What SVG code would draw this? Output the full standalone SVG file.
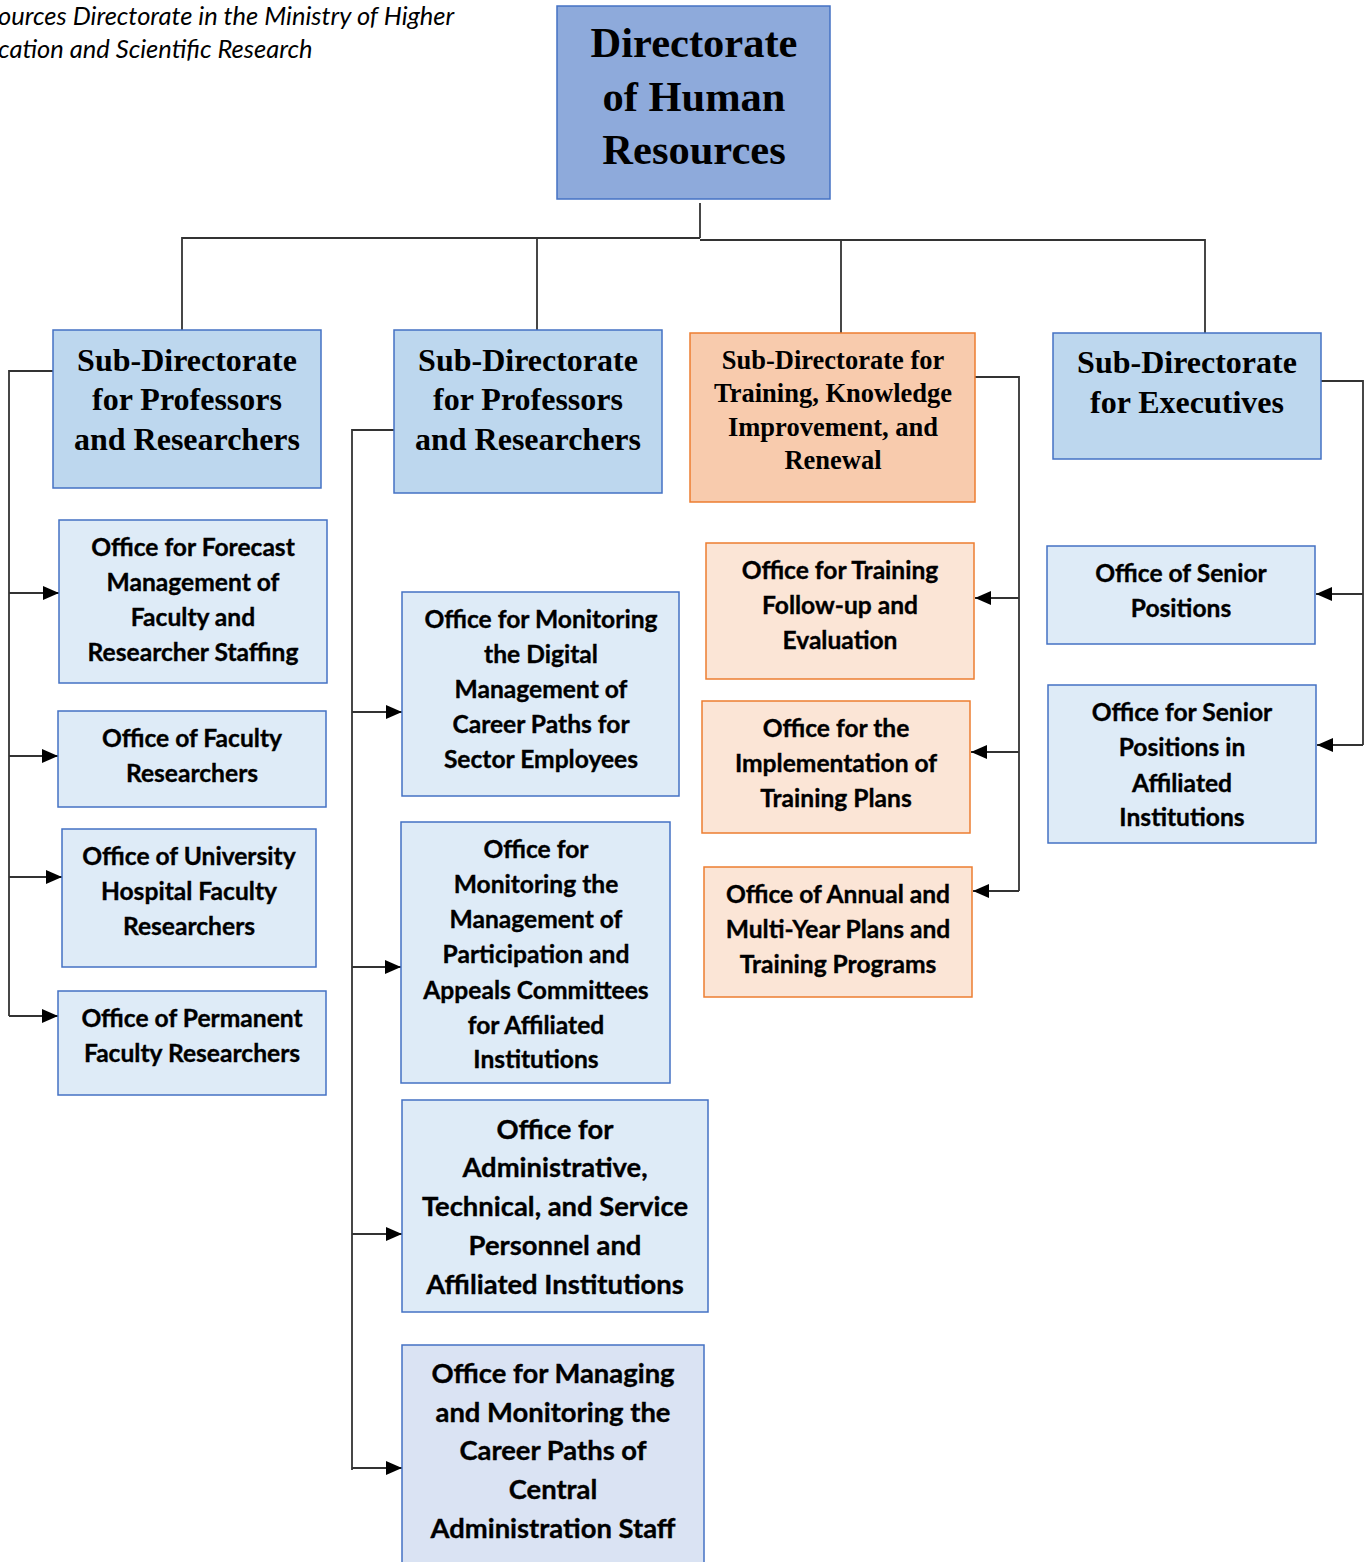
<svg xmlns="http://www.w3.org/2000/svg" width="1368" height="1562" viewBox="0 0 1368 1562">
<style>
.bg{fill:#fff}
.top{fill:#8EAADB;stroke:#4472C4;stroke-width:1.5}
.sub{fill:#BDD7EE;stroke:#4472C4;stroke-width:1.5}
.subo{fill:#F8CBAD;stroke:#ED7D31;stroke-width:1.5}
.off{fill:#DEEBF7;stroke:#4472C4;stroke-width:1.5}
.off2{fill:#DAE3F3;stroke:#4472C4;stroke-width:1.5}
.offo{fill:#FBE5D6;stroke:#ED7D31;stroke-width:1.5}
.h{font-family:"Liberation Serif","Times New Roman",serif;font-weight:bold;text-anchor:middle;fill:#000}
.t{font-family:Lato,"Liberation Sans",sans-serif;font-weight:bold;text-anchor:middle;fill:#000;font-size:24.6px;stroke:#000;stroke-width:0.35}
.b{font-size:27.4px}
.i{font-family:Lato,"Liberation Sans",sans-serif;font-style:italic;fill:#000;font-size:25.5px}
.ln{fill:none;stroke:#333;stroke-width:1.8}
.ar{fill:none;stroke:#333;stroke-width:1.8;marker-end:url(#ah)}
</style>
<defs>
<marker id="ah" viewBox="0 0 16 14" refX="16" refY="7" markerWidth="16" markerHeight="14" markerUnits="userSpaceOnUse" orient="auto">
<path d="M0,0 L16,7 L0,14 Z" fill="#000"/>
</marker>
</defs>
<rect class="bg" x="0" y="0" width="1368" height="1562"/>
<g id="caption">
<text class="i" x="-2" y="25">ources Directorate in the Ministry of Higher</text>
<text class="i" x="-2" y="58">cation and Scientific Research</text>
</g>
<g id="connectors">
<path class="ln" d="M700,203 V238 M182,330 V238 H700 M700,240 H1205 V333 M537,238 V330 M841,240 V333"/>
<path class="ln" d="M53,371 H9 V1016"/>
<path class="ar" d="M9,593 H59"/>
<path class="ar" d="M9,756 H58"/>
<path class="ar" d="M9,877 H62"/>
<path class="ar" d="M9,1016 H58"/>
<path class="ln" d="M394,430 H352 V1470"/>
<path class="ar" d="M352,712 H402"/>
<path class="ar" d="M352,967 H401"/>
<path class="ar" d="M352,1234 H402"/>
<path class="ar" d="M352,1468 H402"/>
<path class="ln" d="M975,377 H1019 V891"/>
<path class="ar" d="M1019,598 H975"/>
<path class="ar" d="M1019,752 H971"/>
<path class="ar" d="M1019,891 H973"/>
<path class="ln" d="M1321,381 H1363 V745"/>
<path class="ar" d="M1363,594 H1316"/>
<path class="ar" d="M1363,745 H1317"/>
</g>
<g id="n-top">
<rect class="top" x="557" y="6" width="273" height="193"/>
<text class="h" font-size="42.5" x="694" y="57">Directorate</text>
<text class="h" font-size="42.5" x="694" y="111">of Human</text>
<text class="h" font-size="42.5" x="694" y="164">Resources</text>
</g>
<g id="n-sub1">
<rect class="sub" x="53" y="330" width="268" height="158"/>
<text class="h" font-size="32" x="187" y="371">Sub-Directorate</text>
<text class="h" font-size="32" x="187" y="410">for Professors</text>
<text class="h" font-size="32" x="187" y="450">and Researchers</text>
</g>
<g id="n-sub2">
<rect class="sub" x="394" y="330" width="268" height="163"/>
<text class="h" font-size="32" x="528" y="371">Sub-Directorate</text>
<text class="h" font-size="32" x="528" y="410">for Professors</text>
<text class="h" font-size="32" x="528" y="450">and Researchers</text>
</g>
<g id="n-sub3">
<rect class="subo" x="690" y="333" width="285" height="169"/>
<text class="h" font-size="26.5" x="833" y="369">Sub-Directorate for</text>
<text class="h" font-size="26.5" x="833" y="402">Training, Knowledge</text>
<text class="h" font-size="26.5" x="833" y="436">Improvement, and</text>
<text class="h" font-size="26.5" x="833" y="469">Renewal</text>
</g>
<g id="n-sub4">
<rect class="sub" x="1053" y="333" width="268" height="126"/>
<text class="h" font-size="32" x="1187" y="373">Sub-Directorate</text>
<text class="h" font-size="32" x="1187" y="413">for Executives</text>
</g>
<g id="n-l1">
<rect class="off" x="59" y="520" width="268" height="163"/>
<text class="t" x="193" y="556">Office for Forecast</text>
<text class="t" x="193" y="591">Management of</text>
<text class="t" x="193" y="626">Faculty and</text>
<text class="t" x="193" y="661">Researcher Staffing</text>
</g>
<g id="n-l2">
<rect class="off" x="58" y="711" width="268" height="96"/>
<text class="t" x="192" y="747">Office of Faculty</text>
<text class="t" x="192" y="782">Researchers</text>
</g>
<g id="n-l3">
<rect class="off" x="62" y="829" width="254" height="138"/>
<text class="t" x="189" y="865">Office of University</text>
<text class="t" x="189" y="900">Hospital Faculty</text>
<text class="t" x="189" y="935">Researchers</text>
</g>
<g id="n-l4">
<rect class="off" x="58" y="991" width="268" height="104"/>
<text class="t" x="192" y="1027">Office of Permanent</text>
<text class="t" x="192" y="1062">Faculty Researchers</text>
</g>
<g id="n-m1">
<rect class="off" x="402" y="592" width="277" height="204"/>
<text class="t" x="541" y="628">Office for Monitoring</text>
<text class="t" x="541" y="663">the Digital</text>
<text class="t" x="541" y="698">Management of</text>
<text class="t" x="541" y="733">Career Paths for</text>
<text class="t" x="541" y="768">Sector Employees</text>
</g>
<g id="n-m2">
<rect class="off" x="401" y="822" width="269" height="261"/>
<text class="t" x="536" y="858">Office for</text>
<text class="t" x="536" y="893">Monitoring the</text>
<text class="t" x="536" y="928">Management of</text>
<text class="t" x="536" y="963">Participation and</text>
<text class="t" x="536" y="999">Appeals Committees</text>
<text class="t" x="536" y="1034">for Affiliated</text>
<text class="t" x="536" y="1068">Institutions</text>
</g>
<g id="n-m3">
<rect class="off" x="402" y="1100" width="306" height="212"/>
<text class="t b" x="555" y="1139">Office for</text>
<text class="t b" x="555" y="1177">Administrative,</text>
<text class="t b" x="555" y="1216">Technical, and Service</text>
<text class="t b" x="555" y="1255">Personnel and</text>
<text class="t b" x="555" y="1294">Affiliated Institutions</text>
</g>
<g id="n-m4">
<rect class="off2" x="402" y="1345" width="302" height="230"/>
<text class="t b" x="553" y="1383">Office for Managing</text>
<text class="t b" x="553" y="1422">and Monitoring the</text>
<text class="t b" x="553" y="1460">Career Paths of</text>
<text class="t b" x="553" y="1499">Central</text>
<text class="t b" x="553" y="1538">Administration Staff</text>
</g>
<g id="n-o1">
<rect class="offo" x="706" y="543" width="268" height="136"/>
<text class="t" x="840" y="579">Office for Training</text>
<text class="t" x="840" y="614">Follow-up and</text>
<text class="t" x="840" y="649">Evaluation</text>
</g>
<g id="n-o2">
<rect class="offo" x="702" y="701" width="268" height="132"/>
<text class="t" x="836" y="737">Office for the</text>
<text class="t" x="836" y="772">Implementation of</text>
<text class="t" x="836" y="807">Training Plans</text>
</g>
<g id="n-o3">
<rect class="offo" x="704" y="867" width="268" height="130"/>
<text class="t" x="838" y="903">Office of Annual and</text>
<text class="t" x="838" y="938">Multi-Year Plans and</text>
<text class="t" x="838" y="973">Training Programs</text>
</g>
<g id="n-r1">
<rect class="off" x="1047" y="546" width="268" height="98"/>
<text class="t" x="1181" y="582">Office of Senior</text>
<text class="t" x="1181" y="617">Positions</text>
</g>
<g id="n-r2">
<rect class="off" x="1048" y="685" width="268" height="158"/>
<text class="t" x="1182" y="721">Office for Senior</text>
<text class="t" x="1182" y="756">Positions in</text>
<text class="t" x="1182" y="792">Affiliated</text>
<text class="t" x="1182" y="826">Institutions</text>
</g>
</svg>
